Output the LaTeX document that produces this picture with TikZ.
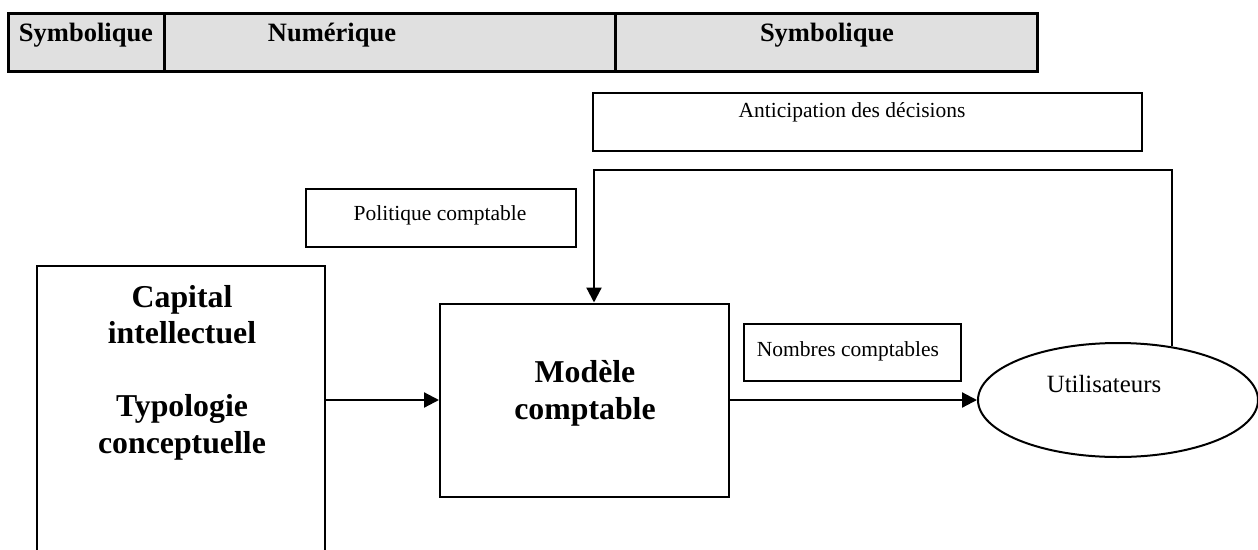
\documentclass[tikz,border=0pt]{standalone}
\usepackage{fontspec}
\setmainfont{Liberation Serif}
\usetikzlibrary{shapes.geometric,arrows.meta,calc}

\tikzset{
    cell/.style={draw, line width=3pt, fill=gray!24, inner sep=0pt, minimum height=58pt},
    box/.style={draw, line width=2pt, inner sep=0pt},
    arr/.style={line width=2.2pt, -{Triangle[length=15pt,width=15pt]}},
    small/.style={font=\fontsize{21.5}{26}\selectfont, anchor=base},
    head/.style={font=\fontsize{26.5}{32}\selectfont\bfseries, anchor=base},
    big/.style={font=\fontsize{31.8}{36.5}\selectfont\bfseries, align=center, anchor=base}
}

\begin{document}
\begin{tikzpicture}[x=1pt, y=-1pt]
        \useasboundingbox (0,0) rectangle (1258,549);
        \clip (0,0) rectangle (1258,549);

        % Header bar
        \node[cell, minimum width=156pt] (symA) at (86,42) {};
        \node[cell, minimum width=451pt] (num) at (389.5,42) {};
        \node[cell, minimum width=422pt] (symB) at (826,42) {};
        \node[head] (symAtxt) at (86,41) {Symbolique};
        \node[head] (numtxt) at (332,41) {Numérique};
        \node[head] (symBtxt) at (827,41) {Symbolique};

        % Boxes
        \node[box, minimum width=549pt, minimum height=58pt] (antic) at (867.5,122) {};
        \node[small] (antictxt) at (852,117) {Anticipation des décisions};

        \node[box, minimum width=270pt, minimum height=58pt] (polit) at (441,218) {};
        \node[small] (polittxt) at (440,220) {Politique comptable};

        \node[box, minimum width=288pt, minimum height=334pt] (capbox) at (181,433) {};
        % base anchor = last line
        \node[big] (captxt) at (182,453) {Capital\\intellectuel\\[36.5pt]Typologie\\conceptuelle};

        \node[box, minimum width=289pt, minimum height=193pt] (modele) at (584.5,400) {};
        \node[big] (modtxt) at (585,419) {Modèle\\comptable};

        \node[box, minimum width=217pt, minimum height=57pt] (nombres) at (852.5,352.5) {};
        \node[small] (nombrestxt) at (848,356) {Nombres comptables};

        \node[box, ellipse, minimum width=280pt, minimum height=114pt] (util) at (1118,400) {};
        \node[small, font=\fontsize{24.8}{30}\selectfont] (utiltxt) at (1104,392) {Utilisateurs};

        % Connectors
        \coordinate (fbL) at (594,170);
        \draw[arr] (modele.west -| capbox.east) -- (modele.west);
        \draw[arr] (modele.east) -- (util.west);
        \draw[arr] (util.45) |- (fbL) -- (fbL |- modele.north);
\end{tikzpicture}
\end{document}
